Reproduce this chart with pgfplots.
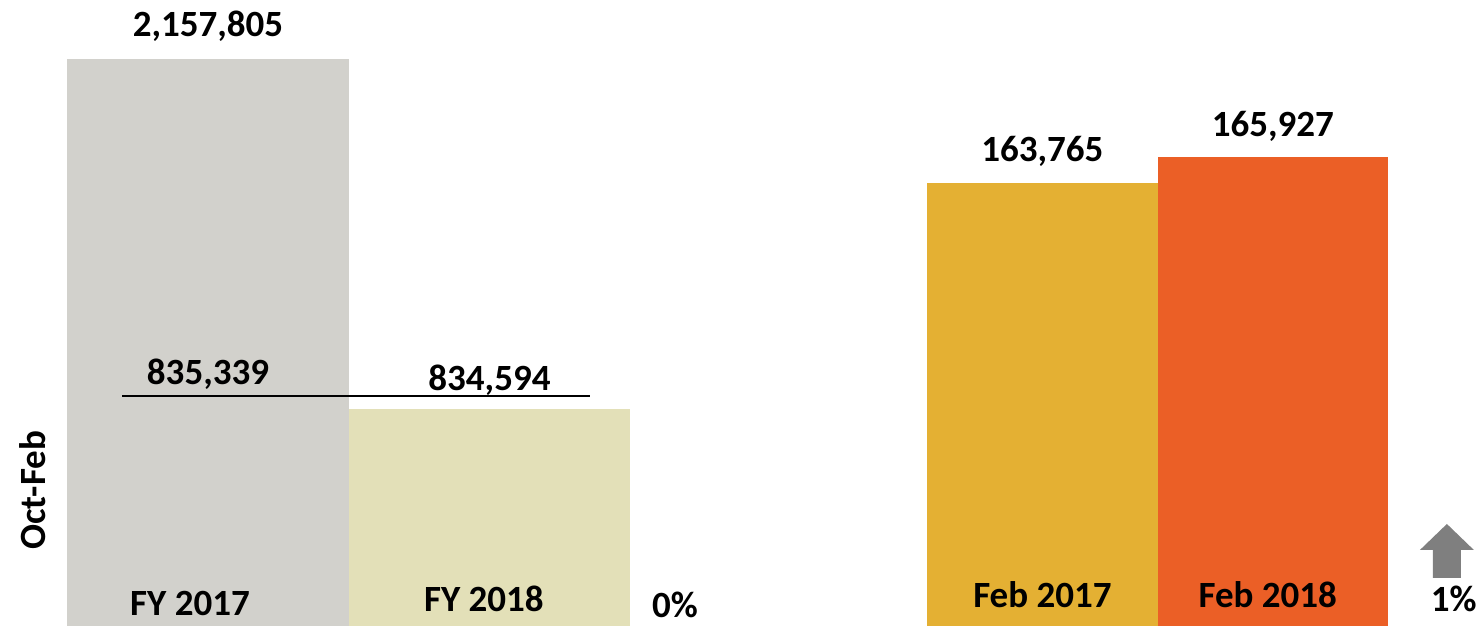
\documentclass[border=0pt]{standalone}
\usepackage{fontspec}
\setmainfont{Carlito}
\usepackage{pgfplots}
\pgfplotsset{compat=1.18}
\definecolor{cgray}{HTML}{D2D1CC}
\definecolor{cbeige}{HTML}{E3E0B8}
\definecolor{cgold}{HTML}{E4B033}
\definecolor{corange}{HTML}{EB5F26}
\definecolor{carrow}{HTML}{7F7F7F}
\begin{document}
\begin{tikzpicture}[every node/.style={font=\fontsize{37}{40}\selectfont\bfseries, inner sep=0pt}]
\useasboundingbox (0,0) rectangle (1484pt,626pt);
% ---------- left panel: Oct-Feb totals ----------
\begin{axis}[
  at={(0pt,0pt)}, anchor=south west,
  scale only axis, width=740pt, height=626pt,
  hide axis, clip=true,
  xmin=-0.739, xmax=1.890,
  ymin=15116, ymax=2380773,
  ybar, bar width=1,
]
\addplot[fill=cgray, draw=none, bar shift=0] coordinates {(0,2157805)};
\addplot[fill=cbeige, draw=none, bar shift=0] coordinates {(1,834594)};
\addplot[sharp plot, black, line width=1.4pt, forget plot] coordinates {(-0.3055,884000) (1.357,884000)};
\node[anchor=base, yshift=22pt] at (axis cs:0,2157805) {2,157,805};
\node[anchor=base, yshift=12pt] at (axis cs:0,884000) {835,339};
\node[anchor=base, yshift=19pt] at (axis cs:1,834594) {834,594};
\node[anchor=base, yshift=10pt] at ({axis cs:-0.064,0}|-{rel axis cs:0,0}) {FY 2017};
\node[anchor=base, yshift=14pt] at ({axis cs:0.98,0}|-{rel axis cs:0,0}) {FY 2018};
\node[anchor=base, yshift=8pt] at ({axis cs:1.659,0}|-{rel axis cs:0,0}) {0\%};
\node[rotate=90, anchor=center] at (rel axis cs:0.0446,0.217) {Oct-Feb};
\end{axis}
% ---------- right panel: February ----------
\begin{axis}[
  at={(740pt,0pt)}, anchor=south west,
  scale only axis, width=744pt, height=626pt,
  hide axis, clip=true,
  xmin=-1.312, xmax=1.916,
  ymin=126928, ymax=178982,
  ybar, bar width=1,
]
\addplot[fill=cgold, draw=none, bar shift=0] coordinates {(0,163765)};
\addplot[fill=corange, draw=none, bar shift=0] coordinates {(1,165927)};
\node[anchor=base, yshift=21pt] at (axis cs:0,163765) {163,765};
\node[anchor=base, yshift=20pt] at (axis cs:1,165927) {165,927};
\node[anchor=base, yshift=18pt] at ({axis cs:0,0}|-{rel axis cs:0,0}) {Feb 2017};
\node[anchor=base, yshift=18pt] at ({axis cs:0.978,0}|-{rel axis cs:0,0}) {Feb 2018};
\node[anchor=base, yshift=14pt] at ({axis cs:1.785,0}|-{rel axis cs:0,0}) {1\%};
\fill[carrow] (axis cs:1.755,135411) -- (axis cs:1.872,133249) -- (axis cs:1.816,133249)
  -- (axis cs:1.816,130921) -- (axis cs:1.694,130921) -- (axis cs:1.694,133249)
  -- (axis cs:1.638,133249) -- cycle;
\end{axis}
\end{tikzpicture}
\end{document}
